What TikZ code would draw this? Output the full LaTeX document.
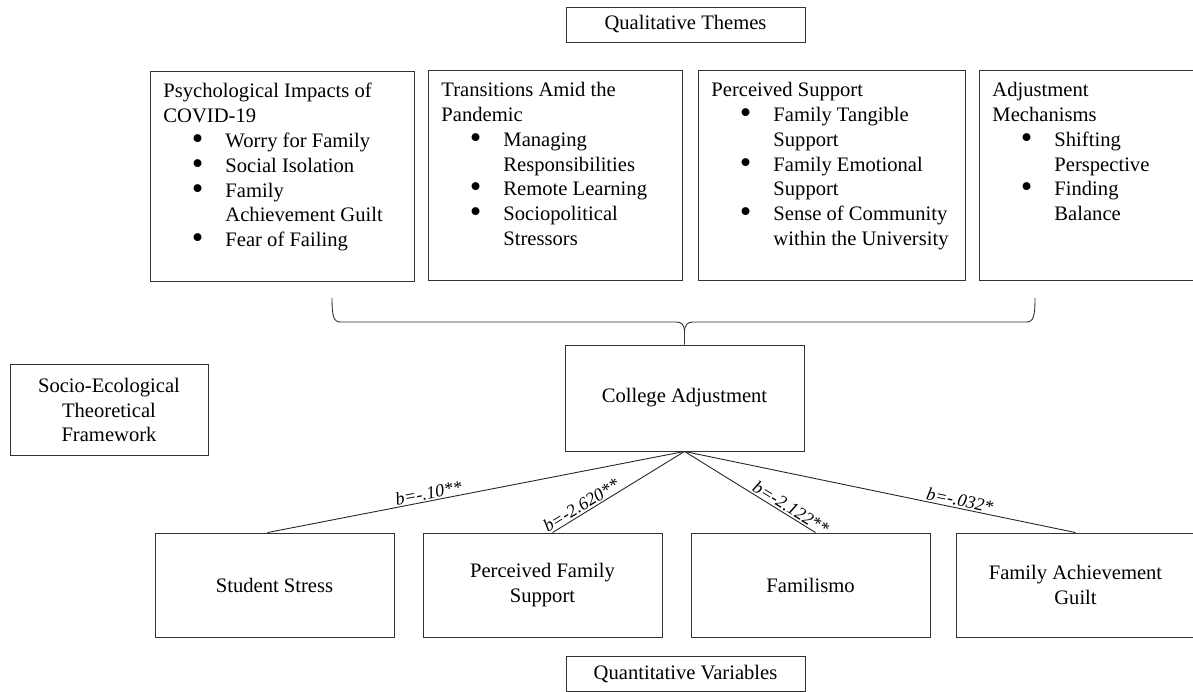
\documentclass[tikz,border=0pt]{standalone}
\usepackage{fontspec}
\setmainfont{Liberation Serif}
\usepackage{enumitem}
\setlist[itemize]{nosep, label=\raisebox{-0.2ex}{\scalebox{1.6}{\textbullet}}, leftmargin=62pt, labelsep=22pt}
\newcommand{\themetext}[2]{\parbox[t][186pt][t]{#1}{\raggedright #2}}

\begin{document}
\begin{tikzpicture}[x=1pt,y=-1pt,
  every node/.style={font=\fontsize{20.6}{24.8}\selectfont},
  box/.style={draw=black!80, line width=0.9pt},
  themebox/.style={box, anchor=north west, inner xsep=13pt, inner ysep=12pt},
  varbox/.style={box, minimum width=239pt, minimum height=104pt, align=center, inner sep=2pt},
  headbox/.style={box, minimum width=239pt, minimum height=35pt, inner sep=2pt},
  coef/.style={font=\fontsize{18}{20}\selectfont\itshape, sloped, above, inner sep=1.5pt},
  coefline/.style={draw=black!85, line width=0.9pt}]
\useasboundingbox (0,0) rectangle (1193,692);

% qualitative part
\node[headbox] (qual) at (685.5,24.5) {Qualitative Themes};
\node[themebox] (psy) at (150,71) {\themetext{238pt}{Psychological Impacts of\\COVID-19
  \begin{itemize}
  \item Worry for Family
  \item Social Isolation
  \item Family\newline Achievement Guilt
  \item Fear of Failing
  \end{itemize}}};
\node[themebox] (trans) at (428,70) {\themetext{228pt}{Transitions Amid the\\Pandemic
  \begin{itemize}
  \item Managing\newline Responsibilities
  \item Remote Learning
  \item Sociopolitical\newline Stressors
  \end{itemize}}};
\node[themebox] (supp) at (698,70) {\themetext{241pt}{Perceived Support
  \begin{itemize}
  \item Family Tangible\newline Support
  \item Family Emotional\newline Support
  \item Sense of Community\newline within the University
  \end{itemize}}};
\node[themebox] (adj) at (979,70) {\themetext{241pt}{Adjustment\\Mechanisms
  \begin{itemize}
  \item Shifting\newline Perspective
  \item Finding\newline Balance
  \end{itemize}}};

% framework and outcome
\node[box, minimum width=198pt, minimum height=91pt, align=center] (seco) at (109,410)
  {Socio-Ecological\\Theoretical\\Framework};
\node[varbox, minimum height=106pt] (coll) at (684.5,398) {College Adjustment};

% brace
\draw[box] (332,298) .. controls (332,318) and (334,322) .. (341,322) -- (676,322)
  .. controls (682,322) and (684,325) .. (684.5,331) -- (coll.north);
\draw[box] (1035,298) .. controls (1035,318) and (1033,322) .. (1026,322) -- (693,322)
  .. controls (687,322) and (685,325) .. (684.5,331);

% quantitative part
\node[varbox] (ss) at (274.5,585) {Student Stress};
\node[varbox] (pfs) at (542.5,585) {Perceived Family\\Support};
\node[varbox] (fam) at (810.5,585) {Familismo};
\node[varbox] (fag) at (1075.5,585) {Family Achievement\\Guilt};
\node[headbox] (quant) at (685.5,674) {Quantitative Variables};

\draw[coefline] ([xshift=-7pt]ss.north) -- (coll.south) node[coef, pos=0.39] {b=-.10**};
\draw[coefline] ([xshift=10pt]pfs.north) -- (coll.south) node[coef, pos=0.25] {b=-2.620**};
\draw[coefline] (coll.south) -- ([xshift=5pt]fam.north) node[coef, pos=0.78] {b=-2.122**};
\draw[coefline] (coll.south) -- (fag.north) node[coef, pos=0.7] {b=-.032*};
\end{tikzpicture}
\end{document}
